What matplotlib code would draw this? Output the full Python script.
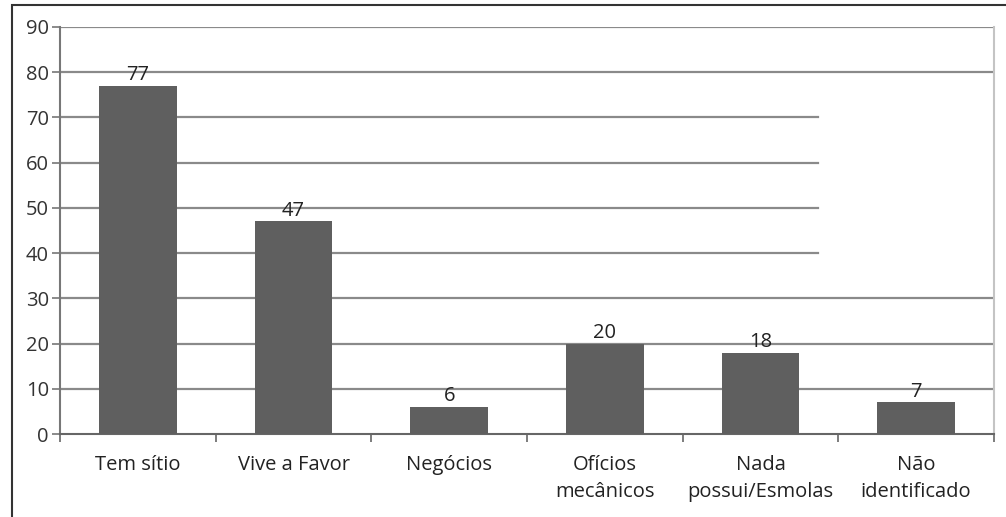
import matplotlib.pyplot as plt
from matplotlib.patches import Rectangle

categorias = ["Tem sítio", "Vive a Favor", "Negócios", "Ofícios\nmecânicos",
              "Nada\npossui/Esmolas", "Não\nidentificado"]
valores = [77, 47, 6, 20, 18, 7]
y_ticks = list(range(0, 91, 10))

plt.rcParams["font.family"] = ["Open Sans", "DejaVu Sans"]
fs = 14.5

fig = plt.figure(figsize=(10.06, 5.17), dpi=100)
ax = fig.add_axes([60 / 1006, 83 / 517, 934 / 1006, 407 / 517])

# moldura externa
fig.add_artist(Rectangle((12 / 1006, -0.1), 1.2, (512 / 517) + 0.1,
                         transform=fig.transFigure, fill=False,
                         edgecolor="#333333", lw=1.5))

x = list(range(len(categorias)))
ax.bar(x, valores, width=0.5, color="#5f5f5f", zorder=3)
for xi, v in zip(x, valores):
    ax.text(xi, v + 0.1, str(v), ha="center", va="bottom", fontsize=fs, color="#222222", zorder=4)

ax.set_xlim(-0.5, len(categorias) - 0.5)
ax.set_ylim(0, 90)
ax.set_yticks(y_ticks)
ax.set_yticklabels([str(t) for t in y_ticks], fontsize=fs, color="#333333")

# linhas de grade (as de 40 a 70 param antes do fim no original)
for t in y_ticks[1:]:
    fim = 0.812 if 40 <= t <= 70 else 1.0
    ax.axhline(t, xmin=0, xmax=fim, color="#8a8a8a", lw=1.6, zorder=1)

ax.set_xticks([i - 0.5 for i in range(len(categorias) + 1)])
ax.set_xticklabels([])
ax.set_xticks(x, minor=True)
ax.set_xticklabels(categorias, minor=True, fontsize=fs, color="#222222", linespacing=1.5)
ax.tick_params(axis="x", which="minor", length=0, pad=15)
ax.tick_params(axis="x", which="major", length=6, width=1.2, color="#666666", direction="out")
ax.tick_params(axis="y", length=6, width=1.2, color="#777777", direction="out", pad=2)

ax.spines["top"].set_visible(False)
ax.spines["left"].set_color("#777777")
ax.spines["left"].set_linewidth(1.5)
ax.spines["bottom"].set_color("#666666")
ax.spines["bottom"].set_linewidth(1.5)
ax.spines["right"].set_color("#c4c4c4")
ax.spines["right"].set_linewidth(1.5)

fig.savefig("out.png", dpi=100)
